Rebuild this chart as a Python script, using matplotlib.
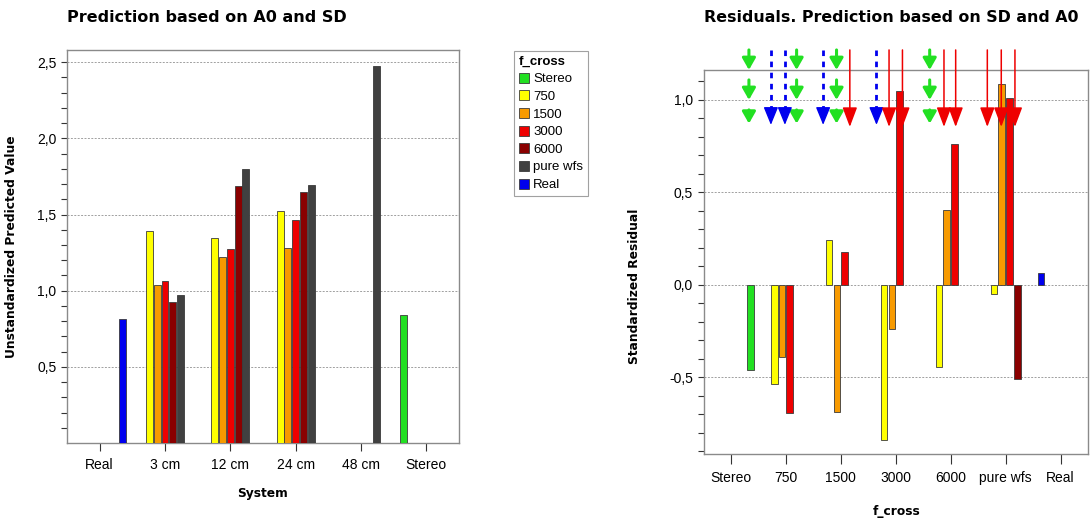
import numpy as np
import matplotlib
matplotlib.use("Agg")
import matplotlib.pyplot as plt
from matplotlib.patches import Patch
from matplotlib.ticker import FixedLocator, FuncFormatter

nan = np.nan

# ---------------- data ----------------
systems = ['Real', '3 cm', '12 cm', '24 cm', '48 cm', 'Stereo']
fcross = ['Stereo', '750', '1500', '3000', '6000', 'pure wfs', 'Real']

# Left chart: predicted value per system, series = f_cross
pred_stereo = [nan, nan, nan, nan, nan, 0.841]
pred_750 = [nan, 1.389, 1.343, 1.526, nan, nan]
pred_1500 = [nan, 1.035, 1.220, 1.280, nan, nan]
pred_3000 = [nan, 1.061, 1.275, 1.463, nan, nan]
pred_6000 = [nan, 0.928, 1.686, 1.651, nan, nan]
pred_purewfs = [nan, 0.969, 1.797, 1.692, 2.474, nan]
pred_real = [0.812, nan, nan, nan, nan, nan]

# Right chart: standardized residual per f_cross, series = system
res_real = [nan, nan, nan, nan, nan, nan, 0.067]
res_3cm = [nan, -0.533, 0.241, -0.838, -0.445, -0.050, nan]
res_12cm = [nan, -0.389, -0.688, -0.238, 0.404, 1.085, nan]
res_24cm = [nan, -0.692, 0.177, 1.049, 0.760, 1.009, nan]
res_48cm = [nan, nan, nan, nan, nan, -0.508, nan]
res_stereo = [-0.459, nan, nan, nan, nan, nan, nan]

# annotation arrows above the residual chart (x in category units, y in residual units)
green_arrow_x = [0.327, 1.195, 1.922, 3.618]
green_arrow_rows = [(1.270, 1.162), (1.108, 1.000), (0.946, 0.872)]
blue_arrow_x = [0.727, 0.982, 1.678, 2.649]
blue_arrow_y = (1.270, 0.865)
red_arrow_x = [2.164, 2.878, 3.122, 3.878, 4.091, 4.667, 4.921, 5.170]
red_arrow_y = (1.270, 0.854)

# ---------------- style ----------------
C_GREEN = '#22e022'
C_YELLOW = '#ffff00'
C_ORANGE = '#f79a00'
C_RED = '#ee0000'
C_DRED = '#8a0000'
C_GREY = '#404040'
C_BLUE = '#0000ee'
EDGE = '#3a3a3a'
FRAME = '#8a8a8a'

TICKFONT = 'Liberation Sans'
BOLDFONT = 'DejaVu Sans'

W, H = 1091, 523
fig = plt.figure(figsize=(W / 100, H / 100), dpi=100)


def fx(px):
    return px / W


def fy(py):
    return 1 - py / H


def comma(v, pos=None):
    return ('%.1f' % v).replace('.', ',')


def style_axes(ax, xlen, xpad):
    for s in ax.spines.values():
        s.set_color(FRAME)
        s.set_linewidth(1.0)
    ax.tick_params(axis='both', which='both', direction='out', color='#333333',
                   length=4, width=0.8, labelsize=10, top=False, right=False)
    ax.tick_params(axis='x', length=xlen, pad=xpad)
    for lab in ax.get_xticklabels() + ax.get_yticklabels():
        lab.set_fontfamily(TICKFONT)
    ax.yaxis.set_major_formatter(FuncFormatter(comma))
    ax.grid(axis='y', which='major', linestyle=(0, (2, 1.5)), color='#a0a0a0', linewidth=0.7)
    ax.set_axisbelow(True)


# ---------------- left chart ----------------
ax1 = fig.add_axes([fx(67), fy(443), fx(459 - 67), (443 - 50) / H])
left_series = [pred_stereo, pred_750, pred_1500, pred_3000, pred_6000, pred_purewfs, pred_real]
left_colors = [C_GREEN, C_YELLOW, C_ORANGE, C_RED, C_DRED, C_GREY, C_BLUE]
x1 = np.arange(len(systems))
pitch1, bw1 = 0.119, 0.107
for i, (vals, col) in enumerate(zip(left_series, left_colors)):
    off = (i - 3) * pitch1
    ax1.bar(x1 + off, vals, width=bw1, color=col, edgecolor=EDGE, linewidth=0.6, zorder=3)
ax1.set_xlim(-0.5, len(systems) - 0.5)
ax1.set_ylim(0, 2.58)
ax1.set_xticks(x1)
ax1.set_xticklabels(systems)
ax1.yaxis.set_major_locator(FixedLocator([0.5, 1.0, 1.5, 2.0, 2.5]))
ax1.yaxis.set_minor_locator(FixedLocator(np.round(np.arange(0.1, 2.55, 0.1), 2)))
style_axes(ax1, 6, 4.5)

fig.text(fx(67), fy(17), 'Prediction based on A0 and SD', fontfamily=BOLDFONT,
         fontweight='bold', fontsize=11.5, ha='left', va='center')
fig.text(fx(12), fy(247), 'Unstandardized Predicted Value', fontfamily=BOLDFONT,
         fontweight='bold', fontsize=8.8, rotation=90, ha='center', va='center')
fig.text(fx(262), fy(494), 'System', fontfamily=BOLDFONT, fontweight='bold',
         fontsize=8.8, ha='center', va='center')

# legend
handles = [Patch(facecolor=c, edgecolor=EDGE, linewidth=0.6) for c in left_colors]
leg = fig.legend(handles, fcross, title='f_cross', loc='upper left',
                 bbox_to_anchor=(fx(514), fy(51)), frameon=True, fancybox=False,
                 prop={'family': TICKFONT, 'size': 9.5},
                 handlelength=0.8, handleheight=0.8, handletextpad=0.3,
                 labelspacing=0.38, borderpad=0.35, borderaxespad=0.0,
                 alignment='left')
leg.get_title().set_fontweight('bold')
leg.get_title().set_fontfamily(TICKFONT)
leg.get_title().set_fontsize(9.5)
leg.get_frame().set_edgecolor(FRAME)
leg.get_frame().set_linewidth(0.8)

# ---------------- right chart ----------------
ax2 = fig.add_axes([fx(703.5), fy(453.7), fx(1088 - 703.5), (453.7 - 70.3) / H])
right_series = [res_real, res_3cm, res_12cm, res_24cm, res_48cm, res_stereo]
right_colors = [C_BLUE, C_YELLOW, C_ORANGE, C_RED, C_DRED, C_GREEN]
x2 = np.arange(len(fcross))
pitch2, bw2 = 0.142, 0.121
for i, (vals, col) in enumerate(zip(right_series, right_colors)):
    off = (i - 2.5) * pitch2
    ax2.bar(x2 + off, vals, width=bw2, color=col, edgecolor=EDGE, linewidth=0.6, zorder=3)
ax2.set_xlim(-0.5, len(fcross) - 0.5)
ax2.set_ylim(-0.912, 1.16)
ax2.set_xticks(x2)
ax2.set_xticklabels(fcross)
ax2.yaxis.set_major_locator(FixedLocator([-0.5, 0.0, 0.5, 1.0]))
ax2.yaxis.set_minor_locator(FixedLocator(np.round(np.arange(-0.9, 1.15, 0.1), 2)))
style_axes(ax2, 7.5, 5)

fig.text(fx(704), fy(18), 'Residuals. Prediction based on SD and A0', fontfamily=BOLDFONT,
         fontweight='bold', fontsize=11.4, ha='left', va='center')
fig.text(fx(634), fy(286), 'Standardized Residual', fontfamily=BOLDFONT,
         fontweight='bold', fontsize=8.8, rotation=90, ha='center', va='center')
fig.text(fx(897), fy(512), 'f_cross', fontfamily=BOLDFONT, fontweight='bold',
         fontsize=8.8, ha='center', va='center')

# arrows
for xa in green_arrow_x:
    for (y0, y1) in green_arrow_rows:
        ax2.annotate('', xy=(xa, y1), xytext=(xa, y0), xycoords='data',
                     annotation_clip=False, zorder=6,
                     arrowprops=dict(arrowstyle='-|>,head_length=0.7,head_width=0.4',
                                     color=C_GREEN, lw=2.2, shrinkA=0, shrinkB=0,
                                     mutation_scale=10))
for xa in blue_arrow_x:
    y0, y1 = blue_arrow_y
    head_len = 0.08
    ax2.plot([xa, xa], [y0, y1 + head_len], color=C_BLUE, lw=2.0,
             linestyle=(0, (2, 2)), clip_on=False, zorder=6)
    ax2.annotate('', xy=(xa, y1), xytext=(xa, y1 + head_len), xycoords='data',
                 annotation_clip=False, zorder=6,
                 arrowprops=dict(arrowstyle='-|>,head_length=1.1,head_width=0.45',
                                 color=C_BLUE, lw=1.0, shrinkA=0, shrinkB=0,
                                 mutation_scale=10))
for xa in red_arrow_x:
    y0, y1 = red_arrow_y
    ax2.annotate('', xy=(xa, y1), xytext=(xa, y0), xycoords='data',
                 annotation_clip=False, zorder=6,
                 arrowprops=dict(arrowstyle='-|>,head_length=1.2,head_width=0.45',
                                 color=C_RED, lw=1.1, shrinkA=0, shrinkB=0,
                                 mutation_scale=10))

fig.savefig('out.png', dpi=100)
